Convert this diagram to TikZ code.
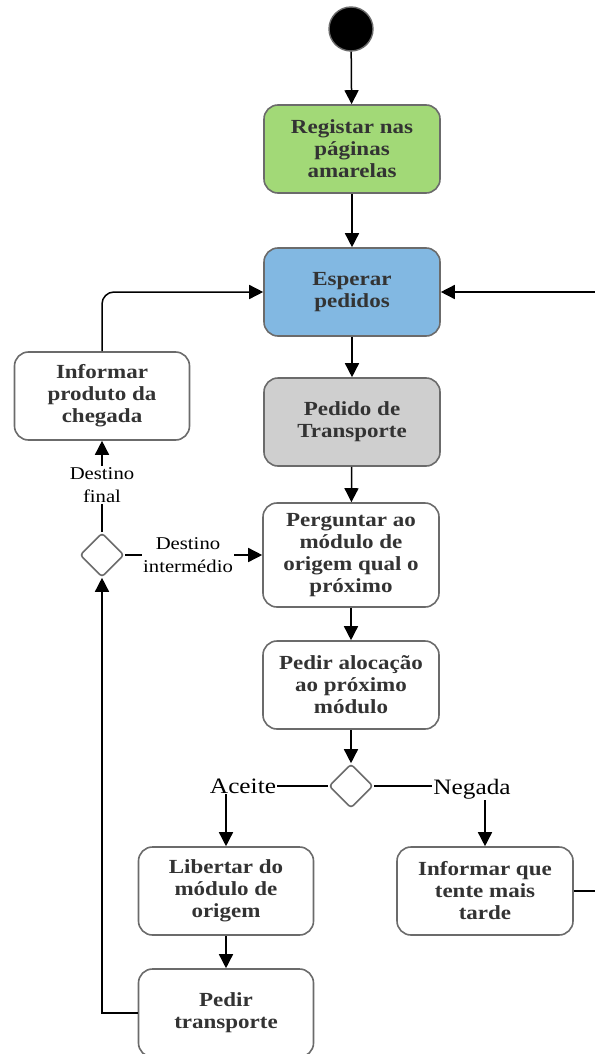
\documentclass[tikz,border=0pt]{standalone}
\usepackage{fontspec}
\setmainfont{Liberation Serif}[FakeStretch=1.15]
\usetikzlibrary{shapes.geometric,arrows.meta}
\definecolor{textgray}{HTML}{333333}
\definecolor{edgegray}{HTML}{6B6B6B}
\definecolor{greenfill}{HTML}{A2D977}
\definecolor{bluefill}{HTML}{82B8E2}
\definecolor{grayfill}{HTML}{CFCFCF}
\begin{document}
\begin{tikzpicture}[x=1pt,y=-1pt,
  act/.style={draw=edgegray, line width=1.6pt, rounded corners=14pt, fill=white,
    minimum width=176pt, minimum height=88pt, align=center, text=textgray,
    font=\fontsize{20}{22}\selectfont\bfseries, inner sep=0pt},
  choice/.style={diamond, draw=edgegray, line width=1.6pt, rounded corners=3pt,
    fill=white, minimum width=44pt, minimum height=44pt, inner sep=0pt},
  flow/.style={line width=1.5pt, draw=black, -{Triangle[length=14pt,width=14pt]}},
  plain/.style={line width=1.5pt, draw=black},
  small/.style={fill=white, align=center, inner sep=1pt, text=black,
    font=\fontsize{18}{23}\selectfont},
  big/.style={fill=white, inner sep=1pt, text=black,
    font=\fontsize{22}{23}\selectfont}]
\useasboundingbox (0,0) rectangle (594,1054);

% initial state
\node[circle, fill=black, draw=edgegray, line width=1.4pt, minimum size=44pt, inner sep=0pt] (start) at (351,29) {};

% activities
\node[act, fill=greenfill] (reg) at (352,149) {Registar nas\\páginas\\amarelas};
\node[act, fill=bluefill] (esp) at (352,292) {Esperar\\pedidos};
\node[act, fill=grayfill] (ped) at (352,422) {Pedido de\\Transporte};
\node[act, minimum height=104pt] (per) at (351,555) {Perguntar ao\\módulo de\\origem qual o\\próximo};
\node[act] (aloc) at (351,685) {Pedir alocação\\ao próximo\\módulo};
\node[act, minimum width=175pt] (lib) at (226,891) {Libertar do\\módulo de\\origem};
\node[act] (infq) at (485,891) {Informar que\\tente mais\\tarde};
\node[act, minimum width=175pt] (ptr) at (226,1013) {Pedir\\transporte};
\node[act, minimum width=175pt] (infp) at (102,396) {Informar\\produto da\\chegada};

% decisions
\node[choice] (d1) at (102,555) {};
\node[choice] (d2) at (351,786) {};

% main sequence
\draw[flow] (start) -- (reg);
\draw[flow] (reg) -- (esp);
\draw[flow] (esp) -- (ped);
\draw[flow] (ped) -- (per);
\draw[flow] (per) -- (aloc);
\draw[flow] (aloc) -- (d2);

% branches of the allocation decision
\coordinate (acc) at (226,786);
\coordinate (neg) at (485,786);
\draw[plain] (d2.west) -- (acc);
\draw[flow] (acc) -- (lib.north);
\draw[plain] (d2.east) -- (neg);
\draw[flow] (neg) -- (infq.north);
\node[big] (lacc) at (243,786) {Aceite};
\node[big] (lneg) at (472,789) {Negada};

\draw[flow] (lib) -- (ptr);

% back to the destination decision
\coordinate (ret) at (102,1013);
\draw[flow] (ptr.west) -- (ret) -- (d1.south);

% destination decision
\draw[flow] (d1.north) -- (infp.south);
\node[small] (lfin) at (102,485) {Destino\\final};
\draw[flow] (d1.east) -- (per.west);
\node[small] (lint) at (188,555) {Destino\\intermédio};

% loops back to waiting for requests
\draw[flow, rounded corners=12pt] (infp.north) |- (esp.west);
\coordinate (rt1) at (610,891);
\coordinate (rt2) at (610,292);
\draw[flow] (infq.east) -- (rt1) -- (rt2) -- (esp.east);
\end{tikzpicture}
\end{document}
